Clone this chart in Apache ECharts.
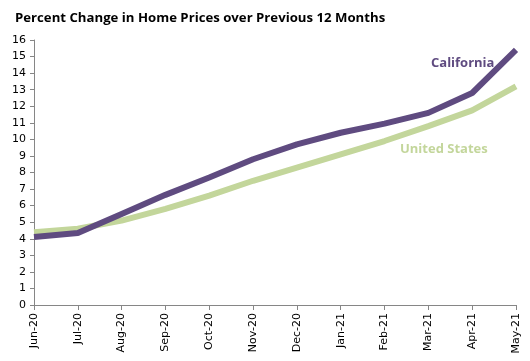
<!DOCTYPE html>
<html><head><meta charset="utf-8">
<script src="https://cdn.jsdelivr.net/npm/echarts@6/dist/echarts.min.js"></script>
<style>html,body{margin:0;padding:0;background:#fff}#c{width:530px;height:361px}</style>
</head><body><div id="c"></div>
<script>
const categories = ["Jun-20","Jul-20","Aug-20","Sep-20","Oct-20","Nov-20","Dec-20","Jan-21","Feb-21","Mar-21","Apr-21","May-21"];
const california = [4.1, 4.35, 5.5, 6.65, 7.7, 8.8, 9.7, 10.4, 10.95, 11.6, 12.8, 15.4];
const unitedStates = [4.4, 4.6, 5.1, 5.8, 6.6, 7.5, 8.3, 9.1, 9.9, 10.8, 11.75, 13.2];
const yTicks = [0,16,1];

const chart = echarts.init(document.getElementById('c'));
chart.setOption({
  animation: false,
  title: { text: 'Percent Change in Home Prices over Previous 12 Months', left: 10, top: 7,
    textStyle: { fontFamily: 'Open Sans', fontWeight: 'bold', fontSize: 13.2, color: '#000' } },
  grid: { left: 34, right: 14, top: 40, bottom: 56 },
  xAxis: { type: 'category', data: categories, boundaryGap: false,
    axisLine: { lineStyle: { color: '#868686' } },
    axisTick: { alignWithLabel: true, length: 5, lineStyle: { color: '#868686' } },
    axisLabel: { rotate: 90, fontFamily: 'DejaVu Sans', fontSize: 11, color: '#000', margin: 8 } },
  yAxis: { type: 'value', min: yTicks[0], max: yTicks[1], interval: yTicks[2],
    splitLine: { show: false },
    axisLine: { show: true, lineStyle: { color: '#868686' } },
    axisTick: { show: true, inside: false, length: 4, lineStyle: { color: '#868686' } },
    axisLabel: { fontFamily: 'DejaVu Sans', fontSize: 11, color: '#000', margin: 8 } },
  series: [
    { name: 'United States', type: 'line', data: unitedStates, symbol: 'none',
      lineStyle: { color: '#C3D69B', width: 6 } },
    { name: 'California', type: 'line', data: california, symbol: 'none',
      lineStyle: { color: '#5F4B80', width: 6 } }
  ],
  graphic: [
    { type: 'text', left: 431, top: 57, style: { text: 'California', font: 'bold 13px "Open Sans"', fill: '#5F4B80' } },
    { type: 'text', left: 400, top: 143, style: { text: 'United States', font: 'bold 13px "Open Sans"', fill: '#C3D69B' } }
  ]
});
</script></body></html>
